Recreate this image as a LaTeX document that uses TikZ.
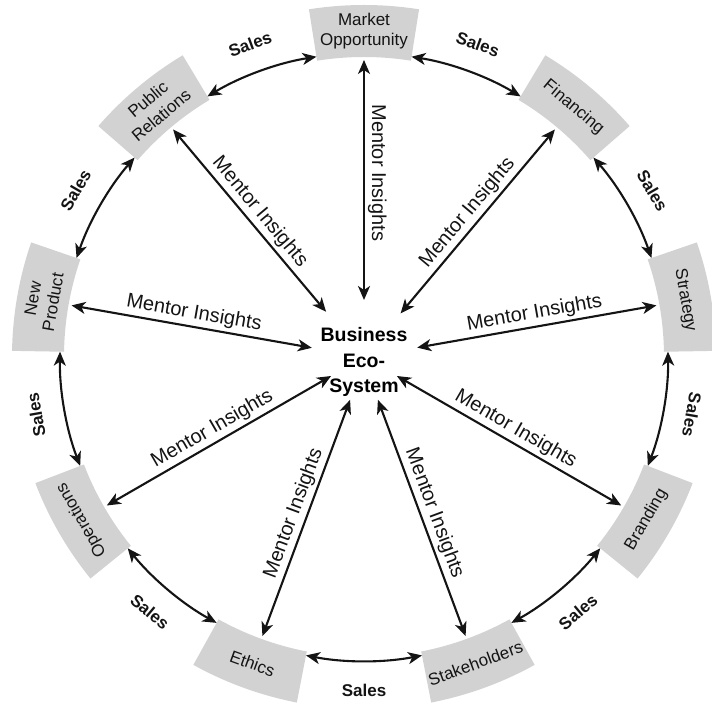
\documentclass[tikz,border=0pt]{standalone}
\usepackage{fontspec}
\setmainfont{Liberation Sans}
\usetikzlibrary{arrows.meta}
\definecolor{boxgray}{RGB}{210,210,210}
\definecolor{ink}{RGB}{20,20,20}
\begin{document}
\begin{tikzpicture}[x=1pt,y=1pt,
  boxtext/.style={font=\fontsize{17}{20.5}\selectfont, text=ink, align=center, inner sep=0pt},
  centertext/.style={font=\bfseries\fontsize{19.5}{25.5}\selectfont, text=black, align=center, inner sep=0pt},
  link/.style={draw=ink, line width=2.1pt, {Stealth[length=14pt,width=12pt,inset=4pt]}-{Stealth[length=14pt,width=12pt,inset=4pt]}},
  mentor/.style={font=\fontsize{20}{23}\selectfont, text=ink, inner sep=3pt, anchor=south},
  saleslab/.style={font=\bfseries\fontsize{17}{20}\selectfont, text=ink, inner sep=0pt},
]
\useasboundingbox (-364,-351) rectangle (348,357);
\clip (-364,-351) rectangle (348,357);

% gray sector boxes
\foreach \a in {90,50,10,-30,-70,-110,-150,170,130}{
  \fill[boxgray] ({\a-9}:300) arc[start angle=\a-9, end angle=\a+9, radius=300]
    -- ({\a+9}:352) arc[start angle=\a+9, end angle=\a-9, radius=352] -- cycle;
}

% box texts
\node[boxtext, rotate=0]   (mkt) at (90:326)   {Market\\Opportunity};
\node[boxtext, rotate=-40] (fin) at (50:326)   {Financing};
\node[boxtext, rotate=-80] (str) at (10:326)   {Strategy};
\node[boxtext, rotate=60]  (brd) at (-30:326)  {Branding};
\node[boxtext, rotate=20]  (stk) at (-70:326)  {Stakeholders};
\node[boxtext, rotate=-20] (eth) at (-110:326) {Ethics};
\node[boxtext, rotate=120] (ops) at (-150:326) {Operations};
\node[boxtext, rotate=80]  (np)  at (170:326)  {New\\Product};
\node[boxtext, rotate=40]  (pr)  at (130:326)  {Public\\Relations};

% centre
\node[centertext] (eco) at (0,-5) {Business\\Eco-\\System};

% spoke end points
\coordinate (i-mkt) at (90:57);   \coordinate (o-mkt) at (90:297);
\coordinate (i-fin) at (50:57);   \coordinate (o-fin) at (50:297);
\coordinate (i-str) at (10:54);   \coordinate (o-str) at (10:297);
\coordinate (i-brd) at (-30:38);  \coordinate (o-brd) at (-30:297);
\coordinate (i-stk) at (-72:45);  \coordinate (o-stk) at (-70:297);
\coordinate (i-eth) at (-108:45); \coordinate (o-eth) at (-110:297);
\coordinate (i-ops) at (-150:38); \coordinate (o-ops) at (-150:297);
\coordinate (i-np)  at (170:53);  \coordinate (o-np)  at (170:297);
\coordinate (i-pr)  at (130:59);  \coordinate (o-pr)  at (130:297);

% spokes with labels
\draw[link] (i-mkt) -- (o-mkt) node[mentor, pos=0.53, rotate=-90] {Mentor Insights};
\draw[link] (i-fin) -- (o-fin) node[mentor, midway, rotate=50]  {Mentor Insights};
\draw[link] (i-str) -- (o-str) node[mentor, midway, rotate=10]  {Mentor Insights};
\draw[link] (i-brd) -- (o-brd) node[mentor, midway, rotate=-30] {Mentor Insights};
\draw[link] (i-stk) -- (o-stk) node[mentor, midway, sloped] {Mentor Insights};
\draw[link] (i-eth) -- (o-eth) node[mentor, midway, sloped]  {Mentor Insights};
\draw[link] (i-ops) -- (o-ops) node[mentor, midway, rotate=30]  {Mentor Insights};
\draw[link] (i-np)  -- (o-np)  node[mentor, midway, rotate=-10] {Mentor Insights};
\draw[link] (i-pr)  -- (o-pr)  node[mentor, midway, rotate=-50] {Mentor Insights};

% sales arcs between neighbouring boxes
\foreach \a/\n/\r in {90/1/-20, 50/2/-60, 10/3/-100, -30/4/40, -70/5/0, -110/6/-40, -150/7/100, 170/8/60, 130/9/20}{
  \coordinate (sa-\n) at ({\a-9}:304);
  \draw[link] (sa-\n) arc[start angle=\a-9, end angle=\a-31, radius=304];
  \node[saleslab, rotate=\r] (sales-\n) at ({\a-20}:333) {Sales};
}
\end{tikzpicture}
\end{document}
